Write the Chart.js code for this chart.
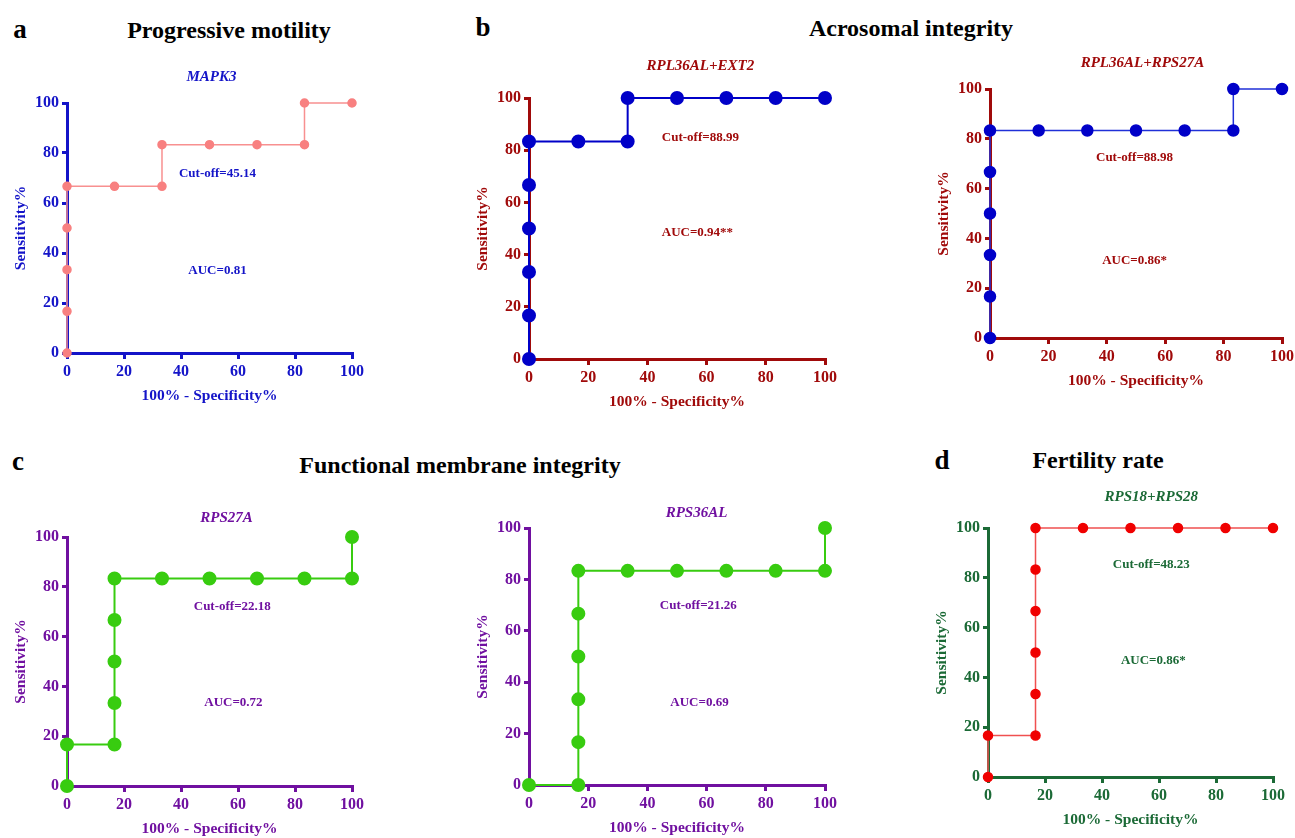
<!DOCTYPE html>
<html>
<head>
<meta charset="utf-8">
<script src="https://cdn.jsdelivr.net/npm/chart.js@4.4.0/dist/chart.umd.min.js"></script>
<style>
  html, body { margin: 0; background: #fff; overflow: hidden; }
  #fig { position: relative; width: 1295px; height: 838px; overflow: hidden;
         font-family: "Liberation Serif", "Times New Roman", serif; font-weight: bold; color: #000; }
  .lbl { position: absolute; transform: translate(-50%, -50%); white-space: nowrap; line-height: 1; }
  .letter { font-size: 27px; }
  .head { font-size: 24px; }
  canvas { position: absolute; }
</style>
</head>
<body>
<div id="fig">
  <div class="lbl letter" style="left:20px;top:29px">a</div>
  <div class="lbl head" style="left:229px;top:30px">Progressive motility</div>
  <div class="lbl letter" style="left:483px;top:27px">b</div>
  <div class="lbl head" style="left:911px;top:28px">Acrosomal integrity</div>
  <div class="lbl letter" style="left:18px;top:461px">c</div>
  <div class="lbl head" style="left:460px;top:465px">Functional membrane integrity</div>
  <div class="lbl letter" style="left:942px;top:460px">d</div>
  <div class="lbl head" style="left:1098px;top:460px">Fertility rate</div>
</div>
<script>
// ROC points, x = 100% - specificity, y = sensitivity
const mapk3X = [0, 0, 0, 0, 0, 16.67, 33.33, 33.33, 50, 66.67, 83.33, 83.33, 100];
const mapk3Y = [0, 16.67, 33.33, 50, 66.67, 66.67, 66.67, 83.33, 83.33, 83.33, 83.33, 100, 100];

const ext2X = [0, 0, 0, 0, 0, 0, 16.67, 33.33, 33.33, 50, 66.67, 83.33, 100];
const ext2Y = [0, 16.67, 33.33, 50, 66.67, 83.33, 83.33, 83.33, 100, 100, 100, 100, 100];

const rps27aComboX = [0, 0, 0, 0, 0, 0, 16.67, 33.33, 50, 66.67, 83.33, 83.33, 100];
const rps27aComboY = [0, 16.67, 33.33, 50, 66.67, 83.33, 83.33, 83.33, 83.33, 83.33, 83.33, 100, 100];

const rps27aX = [0, 0, 16.67, 16.67, 16.67, 16.67, 16.67, 33.33, 50, 66.67, 83.33, 100, 100];
const rps27aY = [0, 16.67, 16.67, 33.33, 50, 66.67, 83.33, 83.33, 83.33, 83.33, 83.33, 83.33, 100];

const rps36alX = [0, 16.67, 16.67, 16.67, 16.67, 16.67, 16.67, 33.33, 50, 66.67, 83.33, 100, 100];
const rps36alY = [0, 0, 16.67, 33.33, 50, 66.67, 83.33, 83.33, 83.33, 83.33, 83.33, 83.33, 100];

const rps18X = [0, 0, 16.67, 16.67, 16.67, 16.67, 16.67, 16.67, 33.33, 50, 66.67, 83.33, 100];
const rps18Y = [0, 16.67, 16.67, 33.33, 50, 66.67, 83.33, 100, 100, 100, 100, 100, 100];

const axisTicks = [0, 20, 40, 60, 80, 100];

const FONT = '"Liberation Serif", "Times New Roman", serif';
const Y_W = 55, X_H = 52, PAD_TOP = 42, PAD_RIGHT = 14;

const panels = [
  { title: 'MAPK3', xs: mapk3X, ys: mapk3Y, axis: '#1414c8', line: '#f89090', point: '#f88080',
    r: 4, lw: 1.5, left: 67, right: 353, top: 103, bottom: 353, titleX: 50.7, titleOff: 26,
    notes: [['Cut-off=45.14', 52.8, 71.6], ['AUC=0.81', 52.8, 32.8]] },
  { title: 'RPL36AL+EXT2', xs: ext2X, ys: ext2Y, axis: '#a00a0a', line: '#0000c8', point: '#0000c8',
    r: 6, lw: 2, left: 529, right: 826, top: 98, bottom: 359, titleX: 57.9, titleOff: 32,
    notes: [['Cut-off=88.99', 57.9, 85], ['AUC=0.94**', 56.9, 48.3]] },
  { title: 'RPL36AL+RPS27A', xs: rps27aComboX, ys: rps27aComboY, axis: '#a00a0a', line: '#2030d8', point: '#0000c8',
    r: 5.5, lw: 1.5, left: 990, right: 1283, top: 89, bottom: 338, titleX: 52.2, titleOff: 26,
    notes: [['Cut-off=88.98', 49.5, 72.3], ['AUC=0.86*', 49.5, 30.9]] },
  { title: 'RPS27A', xs: rps27aX, ys: rps27aY, axis: '#7010a0', line: '#38cc10', point: '#38cc10',
    r: 6, lw: 2, left: 67, right: 353, top: 537, bottom: 786, titleX: 56, titleOff: 19,
    notes: [['Cut-off=22.18', 58, 71.9], ['AUC=0.72', 58.4, 33.3]] },
  { title: 'RPS36AL', xs: rps36alX, ys: rps36alY, axis: '#7010a0', line: '#38cc10', point: '#38cc10',
    r: 6, lw: 2, left: 529, right: 826, top: 528, bottom: 785, titleX: 56.6, titleOff: 15,
    notes: [['Cut-off=21.26', 57.2, 69.6], ['AUC=0.69', 57.6, 31.9]] },
  { title: 'RPS18+RPS28', xs: rps18X, ys: rps18Y, axis: '#1b6a36', line: '#f05050', point: '#f00000',
    r: 4.5, lw: 1.5, left: 988, right: 1274, top: 528, bottom: 777, titleX: 57.3, titleOff: 31,
    notes: [['Cut-off=48.23', 57.3, 85.1], ['AUC=0.86*', 58, 46.6]] }
];

function axisOpts(p, titleText, isX) {
  return {
    type: 'linear', min: 0, max: 100,
    afterBuildTicks: (s) => { s.ticks = axisTicks.map(v => ({ value: v })); },
    ticks: { color: p.axis, padding: isX ? 3 : 3, font: { family: FONT, size: 16, weight: 'bold' } },
    grid: { drawOnChartArea: false, drawTicks: true, tickLength: isX ? 6 : 5, color: p.axis, lineWidth: 3 },
    border: { color: p.axis, width: 3 },
    title: { display: true, text: titleText, color: p.axis, padding: 0,
             font: { family: FONT, size: 15.5, weight: 'bold' } },
    afterFit: (s) => { if (isX) s.height = X_H; else s.width = Y_W; }
  };
}

const fig = document.getElementById('fig');
panels.forEach((p) => {
  const cv = document.createElement('canvas');
  const w = (p.right - p.left) + Y_W + PAD_RIGHT;
  const h = (p.bottom - p.top) + PAD_TOP + X_H;
  cv.style.left = (p.left - Y_W) + 'px';
  cv.style.top = (p.top - PAD_TOP) + 'px';
  cv.style.width = w + 'px';
  cv.style.height = h + 'px';
  cv.width = w; cv.height = h;
  fig.appendChild(cv);

  new Chart(cv.getContext('2d'), {
    type: 'scatter',
    data: {
      datasets: [{
        data: p.xs.map((x, i) => ({ x: x, y: p.ys[i] })),
        showLine: true,
        borderColor: p.line,
        borderWidth: p.lw,
        pointBackgroundColor: p.point,
        pointBorderColor: p.point,
        pointRadius: p.r,
        clip: false
      }]
    },
    options: {
      responsive: false,
      animation: false,
      layout: { padding: { top: PAD_TOP, right: PAD_RIGHT, left: 0, bottom: 0 } },
      plugins: { legend: { display: false }, tooltip: { enabled: false } },
      scales: {
        x: axisOpts(p, '100% - Specificity%', true),
        y: axisOpts(p, 'Sensitivity%', false)
      }
    },
    plugins: [{
      id: 'panelText',
      afterDatasetsDraw(chart) {
        const { ctx, chartArea, scales } = chart;
        ctx.save();
        ctx.fillStyle = p.axis;
        ctx.textAlign = 'center';
        ctx.textBaseline = 'middle';
        ctx.font = 'italic bold 15px ' + FONT;
        ctx.fillText(p.title, scales.x.getPixelForValue(p.titleX), chartArea.top - p.titleOff);
        ctx.font = 'bold 13px ' + FONT;
        p.notes.forEach(([t, x, y]) => {
          ctx.fillText(t, scales.x.getPixelForValue(x), scales.y.getPixelForValue(y));
        });
        ctx.restore();
      }
    }]
  });
});
</script>
</body>
</html>
